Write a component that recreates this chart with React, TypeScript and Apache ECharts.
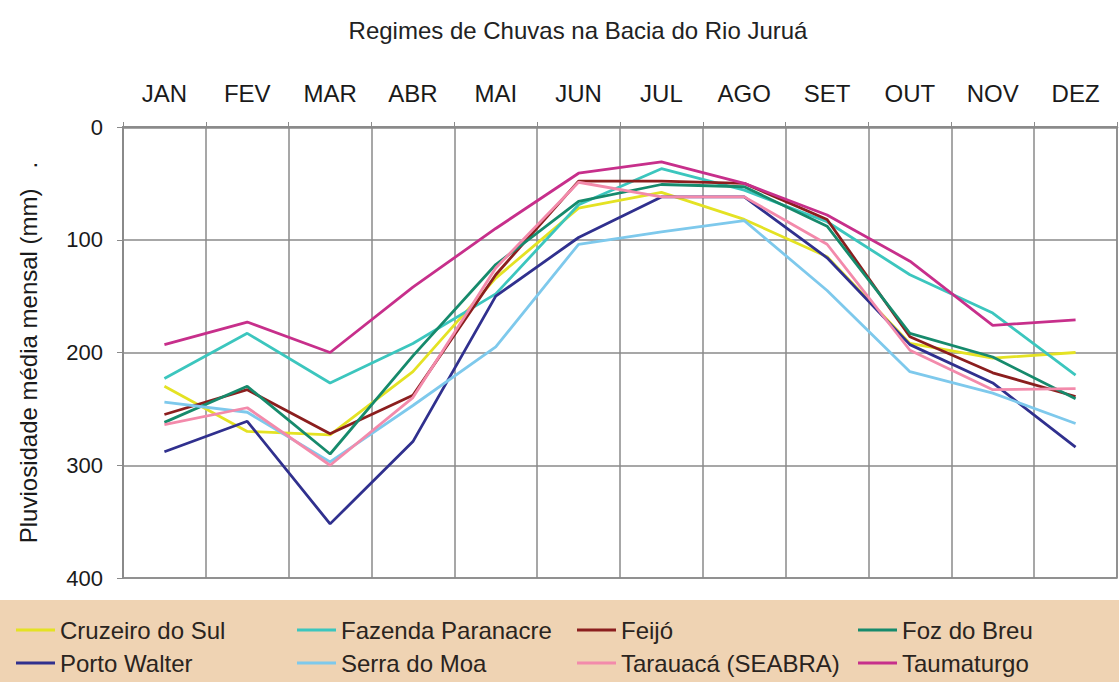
import React, { useEffect, useRef } from "react";
import * as echarts from "echarts";

const months = ["JAN", "FEV", "MAR", "ABR", "MAI", "JUN", "JUL", "AGO", "SET", "OUT", "NOV", "DEZ"];

const cruzeiroDoSul = [230, 270, 273, 217, 134, 72, 58, 82, 115, 192, 205, 200];
const fazendaParanacre = [223, 183, 227, 192, 148, 69, 37, 56, 84, 131, 165, 220];
const feijo = [255, 233, 272, 238, 131, 48, 48, 50, 82, 186, 218, 239];
const fozDoBreu = [262, 230, 290, 203, 122, 66, 51, 53, 88, 183, 204, 241];
const portoWalter = [288, 261, 352, 279, 150, 98, 62, 62, 116, 193, 227, 284];
const serraDoMoa = [244, 253, 297, 247, 195, 104, 93, 83, 145, 217, 236, 263];
const tarauaca = [264, 249, 300, 240, 125, 49, 62, 62, 104, 198, 233, 232];
const taumaturgo = [193, 173, 200, 142, 90, 41, 31, 50, 78, 119, 176, 171];

const yTicks = [0, 100, 200, 300, 400];

const seriesDefs = [
  { name: "Cruzeiro do Sul", data: cruzeiroDoSul, color: "#e4e223" },
  { name: "Fazenda Paranacre", data: fazendaParanacre, color: "#3cc6be" },
  { name: "Feijó", data: feijo, color: "#8b1e1e" },
  { name: "Foz do Breu", data: fozDoBreu, color: "#168a6c" },
  { name: "Porto Walter", data: portoWalter, color: "#30308e" },
  { name: "Serra do Moa", data: serraDoMoa, color: "#7ec9ec" },
  { name: "Tarauacá (SEABRA)", data: tarauaca, color: "#f38aab" },
  { name: "Taumaturgo", data: taumaturgo, color: "#c72f8b" },
];

// legend grid: 4 columns x 2 rows, in series order
const legendLefts = [11, 292, 572, 853];
const legendTops = [613, 646];

const FONT = "'Liberation Sans', Arial, sans-serif";

export default function App() {
  const ref = useRef<HTMLDivElement>(null);
  useEffect(() => {
    document.body.style.margin = "0";
    const chart = echarts.init(ref.current!, null, { renderer: "svg" });
    const grid = "#8a8a8a";
    chart.setOption({
      animation: false,
      backgroundColor: "#ffffff",
      textStyle: { fontFamily: FONT },
      title: {
        text: "Regimes de Chuvas na Bacia do Rio Juruá",
        left: 573,
        textAlign: "center",
        top: 13,
        textStyle: { fontSize: 24, fontWeight: "normal", color: "#222", fontFamily: FONT },
      },
      graphic: [
        {
          type: "rect",
          left: 0,
          top: 600,
          z: 0,
          shape: { width: 1119, height: 82 },
          style: { fill: "#efd3b3" },
        },
      ],
      legend: seriesDefs.map((s, i) => ({
        data: [s.name],
        left: legendLefts[i % 4],
        top: legendTops[Math.floor(i / 4)],
        itemWidth: 39,
        itemHeight: 3,
        icon: "rect",
        textStyle: { fontSize: 24, color: "#2a2420", fontFamily: FONT },
      })),
      grid: {
        left: 123,
        right: 2,
        top: 127,
        bottom: 104,
        show: true,
        borderColor: grid,
        borderWidth: 1.5,
      },
      xAxis: {
        type: "category",
        position: "top",
        data: months,
        boundaryGap: true,
        axisLine: { show: true, lineStyle: { color: grid, width: 2.5 } },
        axisTick: { show: true, length: 5, lineStyle: { color: grid } },
        axisLabel: { fontSize: 24, color: "#1a1a1a", margin: 22, fontFamily: FONT },
        splitLine: { show: true, lineStyle: { color: grid, width: 1.5 } },
      },
      yAxis: {
        type: "value",
        inverse: true,
        min: yTicks[0],
        max: yTicks[yTicks.length - 1],
        interval: 100,
        name: "Pluviosidade média mensal (mm)\u00a0\u00a0\u00a0.",
        nameLocation: "middle",
        nameRotate: 90,
        nameGap: 83,
        nameTextStyle: { fontSize: 24, color: "#1a1a1a", fontFamily: FONT },
        axisLine: { show: true, lineStyle: { color: grid, width: 2 } },
        axisTick: { show: true, length: 6, lineStyle: { color: grid } },
        axisLabel: { fontSize: 22, color: "#1a1a1a", margin: 20, fontFamily: FONT },
        splitLine: { show: true, lineStyle: { color: grid, width: 1.5 } },
      },
      series: seriesDefs.map((s) => ({
        name: s.name,
        type: "line",
        data: s.data,
        symbol: "none",
        color: s.color,
        lineStyle: { color: s.color, width: 2.8 },
      })),
    });
    return () => chart.dispose();
  }, []);
  return <div ref={ref} style={{ width: 1119, height: 682 }} />;
}
